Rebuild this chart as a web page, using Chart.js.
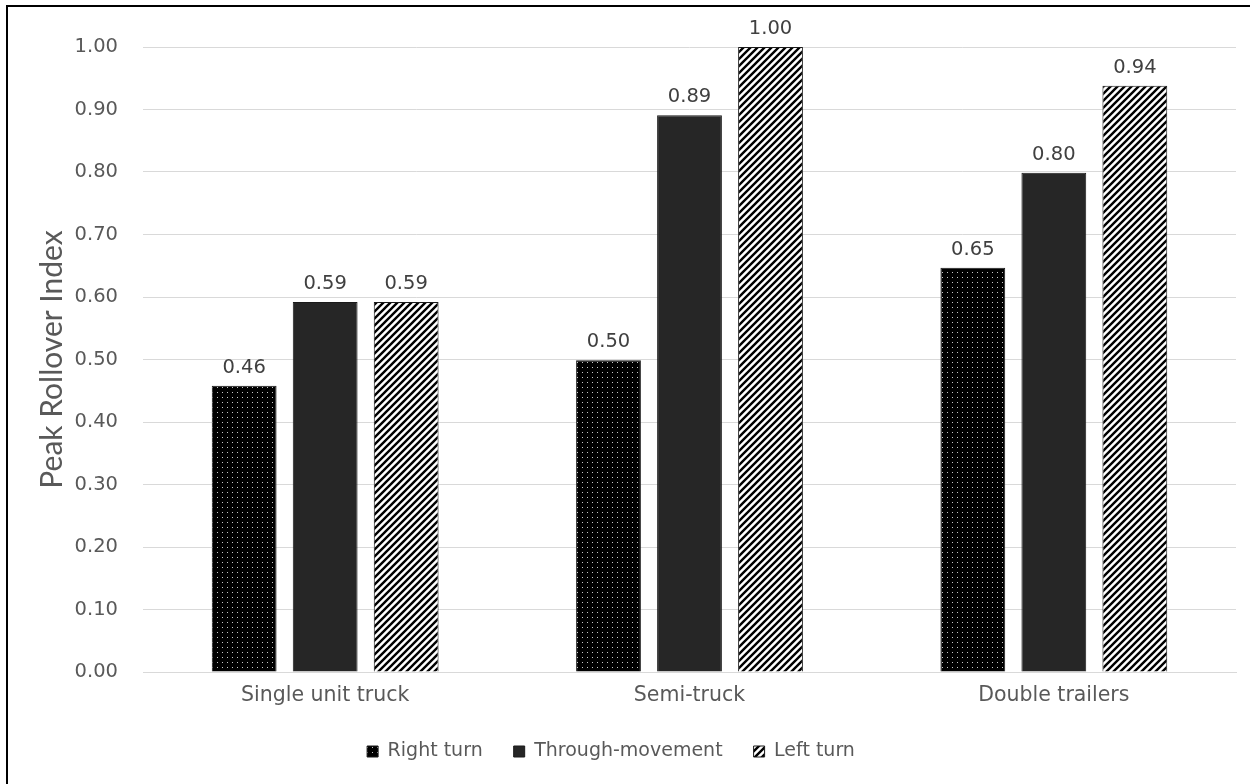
<!DOCTYPE html>
<html>
<head>
<meta charset="utf-8">
<script src="https://cdn.jsdelivr.net/npm/chart.js@4.4.1/dist/chart.umd.min.js"></script>
<style>
  html, body { margin: 0; padding: 0; background: #fff; }
  #wrap { width: 1250px; height: 784px; position: relative; }
</style>
</head>
<body>
<div id="wrap"><canvas id="c" width="1250" height="784"></canvas></div>
<script>
const categories = ["Single unit truck", "Semi-truck", "Double trailers"];
const seriesNames = ["Right turn", "Through-movement", "Left turn"];
const rightTurn = [0.458, 0.499, 0.647];
const throughMovement = [0.592, 0.891, 0.799];
const leftTurn = [0.592, 1.00, 0.938];
const yTicks = [0, 0.1, 0.2, 0.3, 0.4, 0.5, 0.6, 0.7, 0.8, 0.9, 1.0];

const FONT = "'DejaVu Sans', 'Open Sans', sans-serif";
const TITLE_FONT = "Lato, 'Open Sans', sans-serif";

function dotPattern() {
  const t = document.createElement('canvas');
  t.width = 5; t.height = 5;
  const g = t.getContext('2d');
  g.fillStyle = '#000'; g.fillRect(0, 0, 5, 5);
  g.fillStyle = '#c8c8c8'; g.fillRect(2, 2, 1, 1);
  return g.createPattern(t, 'repeat');
}
function stripePattern() {
  const s = 7;
  const t = document.createElement('canvas');
  t.width = s; t.height = s;
  const g = t.getContext('2d');
  g.fillStyle = '#fff'; g.fillRect(0, 0, s, s);
  g.strokeStyle = '#000'; g.lineWidth = 2.4;
  g.beginPath();
  g.moveTo(-s, 2 * s); g.lineTo(2 * s, -s);
  g.moveTo(-s, s); g.lineTo(s, -s);
  g.moveTo(0, 2 * s); g.lineTo(2 * s, 0);
  g.stroke();
  return g.createPattern(t, 'repeat');
}

const frame = {
  id: 'frame',
  afterLayout(chart) {
    if (chart.legend) { chart.legend.left -= 7; chart.legend.right -= 7; }
  },
  beforeDraw(chart) {
    const ctx = chart.ctx;
    ctx.save();
    ctx.fillStyle = '#fff';
    ctx.fillRect(0, 0, chart.width, chart.height);
    ctx.strokeStyle = '#000';
    ctx.lineWidth = 2;
    ctx.beginPath();
    ctx.moveTo(7, chart.height);
    ctx.lineTo(7, 6);
    ctx.lineTo(chart.width, 6);
    ctx.stroke();
    ctx.restore();
  }
};

const valueLabels = {
  id: 'valueLabels',
  afterDatasetsDraw(chart) {
    const ctx = chart.ctx;
    ctx.save();
    ctx.font = "19.5px " + FONT;
    ctx.fillStyle = '#404040';
    ctx.textAlign = 'center';
    ctx.textBaseline = 'bottom';
    chart.data.datasets.forEach((ds, i) => {
      chart.getDatasetMeta(i).data.forEach((bar, j) => {
        ctx.fillText(ds.data[j].toFixed(2), bar.x, bar.y - 8);
      });
    });
    ctx.restore();
  }
};

const dsCommon = {
  borderColor: '#1a1a1a',
  borderWidth: 1,
  categoryPercentage: 0.667,
  barPercentage: 0.8
};

new Chart(document.getElementById('c'), {
  type: 'bar',
  data: {
    labels: categories,
    datasets: [
      Object.assign({ label: seriesNames[0], data: rightTurn, backgroundColor: dotPattern() }, dsCommon),
      Object.assign({ label: seriesNames[1], data: throughMovement, backgroundColor: '#262626' }, dsCommon),
      Object.assign({ label: seriesNames[2], data: leftTurn, backgroundColor: stripePattern() }, dsCommon)
    ]
  },
  options: {
    responsive: false,
    animation: false,
    layout: { padding: { top: 47, right: 14, left: 0, bottom: 13 } },
    plugins: {
      tooltip: { enabled: false },
      legend: {
        position: 'bottom',
        labels: {
          boxWidth: 11, boxHeight: 11,
          padding: 31,
          color: '#595959',
          font: { size: 19, family: FONT }
        }
      }
    },
    scales: {
      x: {
        grid: { display: false, drawTicks: false },
        border: { display: true, color: '#d9d9d9' },
        ticks: { color: '#595959', font: { size: 20.5, family: FONT }, padding: 11 },
        afterFit(s) { s.height = 39; }
      },
      y: {
        min: 0, max: 1,
        afterBuildTicks(s) { s.ticks = yTicks.map(v => ({ value: v })); },
        grid: { color: '#d9d9d9', drawTicks: false },
        border: { display: false },
        ticks: {
          color: '#595959', font: { size: 19.5, family: FONT }, padding: 25,
          callback: v => Number(v).toFixed(2)
        },
        title: {
          display: true, text: 'Peak Rollover Index', color: '#595959',
          font: { size: 30, family: TITLE_FONT, weight: 'normal' },
          padding: { top: 34, bottom: 0 }
        },
        afterFit(s) { s.width = 143; }
      }
    }
  },
  plugins: [frame, valueLabels]
});
</script>
</body>
</html>
